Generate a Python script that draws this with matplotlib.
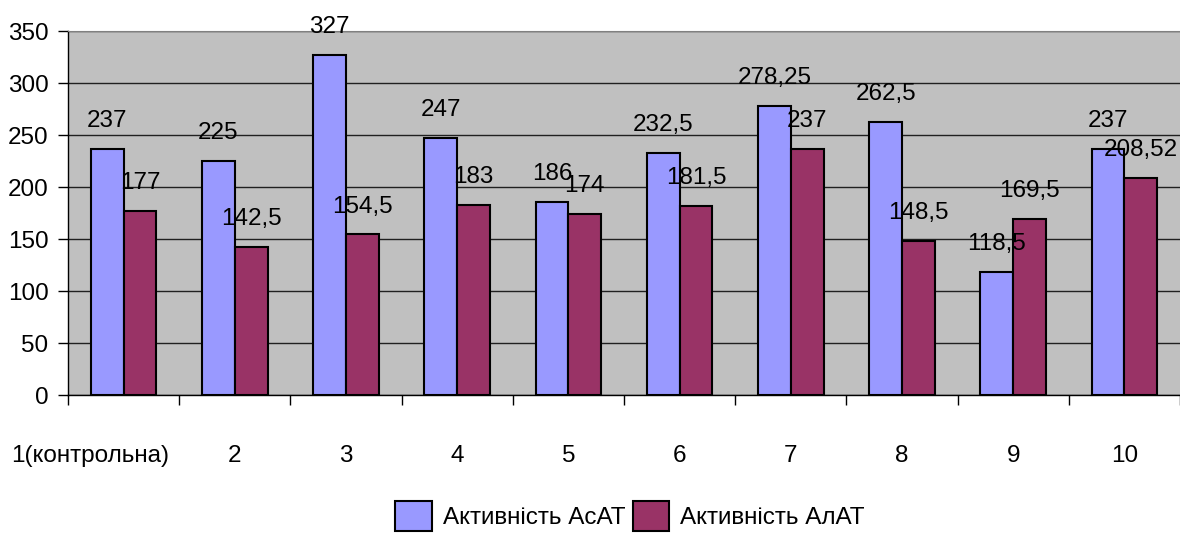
import numpy as np
import matplotlib
matplotlib.use("Agg")
import matplotlib.pyplot as plt
from matplotlib.transforms import ScaledTranslation

plt.rcParams['font.family'] = ['Liberation Sans', 'DejaVu Sans']

categories = ['1(контрольна)', '2', '3', '4', '5', '6', '7', '8', '9', '10']
asat = [237, 225, 327, 247, 186, 232.5, 278.25, 262.5, 118.5, 237]
alat = [177, 142.5, 154.5, 183, 174, 181.5, 237, 148.5, 169.5, 208.52]
series_names = ['Активність АсАТ', 'Активність АлАТ']
colors = ['#9999FF', '#993366']

fig = plt.figure(figsize=(11.8, 5.4), dpi=100)
ax = fig.add_axes([68 / 1180, 1 - 395 / 540, 1112 / 1180, 364 / 540])
ax.set_facecolor('#C0C0C0')

x = np.arange(len(categories))
w = 0.295
fs = 17.5

bars = []
for i, (vals, col, name) in enumerate(zip([asat, alat], colors, series_names)):
    b = ax.bar(x + (i - 0.5) * w, vals, width=w, color=col, edgecolor='black',
               linewidth=1.5, label=name, zorder=3)
    bars.append(b)
    for xi, v in zip(x + (i - 0.5) * w, vals):
        ax.annotate(f'{v:g}'.replace('.', ','), (xi, v), xytext=(0, 20),
                    textcoords='offset points', ha='center', va='center',
                    fontsize=fs, zorder=4, annotation_clip=False)

ax.set_ylim(0, 350)
ax.set_xlim(-0.5, len(categories) - 0.5)
ax.set_yticks(range(0, 351, 50))
ax.yaxis.grid(True, color='#202020', linewidth=1)
ax.set_axisbelow(True)
ax.tick_params(axis='y', labelsize=fs, length=7, width=1, pad=7)

ax.set_xticks(x)
ax.set_xticklabels(categories)
ax.set_xticks(np.arange(-0.5, len(categories), 1), minor=True)
ax.tick_params(axis='x', which='major', length=0, labelsize=fs, pad=36)
ax.tick_params(axis='x', which='minor', length=7, width=1)

# first label sits further left, as in the original
lbl0 = ax.get_xticklabels()[0]
lbl0.set_transform(lbl0.get_transform() + ScaledTranslation(-0.33, 0, fig.dpi_scale_trans))

ax.spines['top'].set_color('#808080')
ax.spines['right'].set_visible(False)
for s in ['left', 'bottom']:
    ax.spines[s].set_color('black')
    ax.spines[s].set_linewidth(1)

fig.legend(handles=bars, labels=series_names, loc='center',
           bbox_to_anchor=(630 / 1180, 1 - 516 / 540), ncol=2, frameon=False,
           fontsize=fs, handlelength=1.5, handleheight=1.5, handletextpad=0.45,
           columnspacing=0.3)

fig.savefig('out.png', dpi=100)
